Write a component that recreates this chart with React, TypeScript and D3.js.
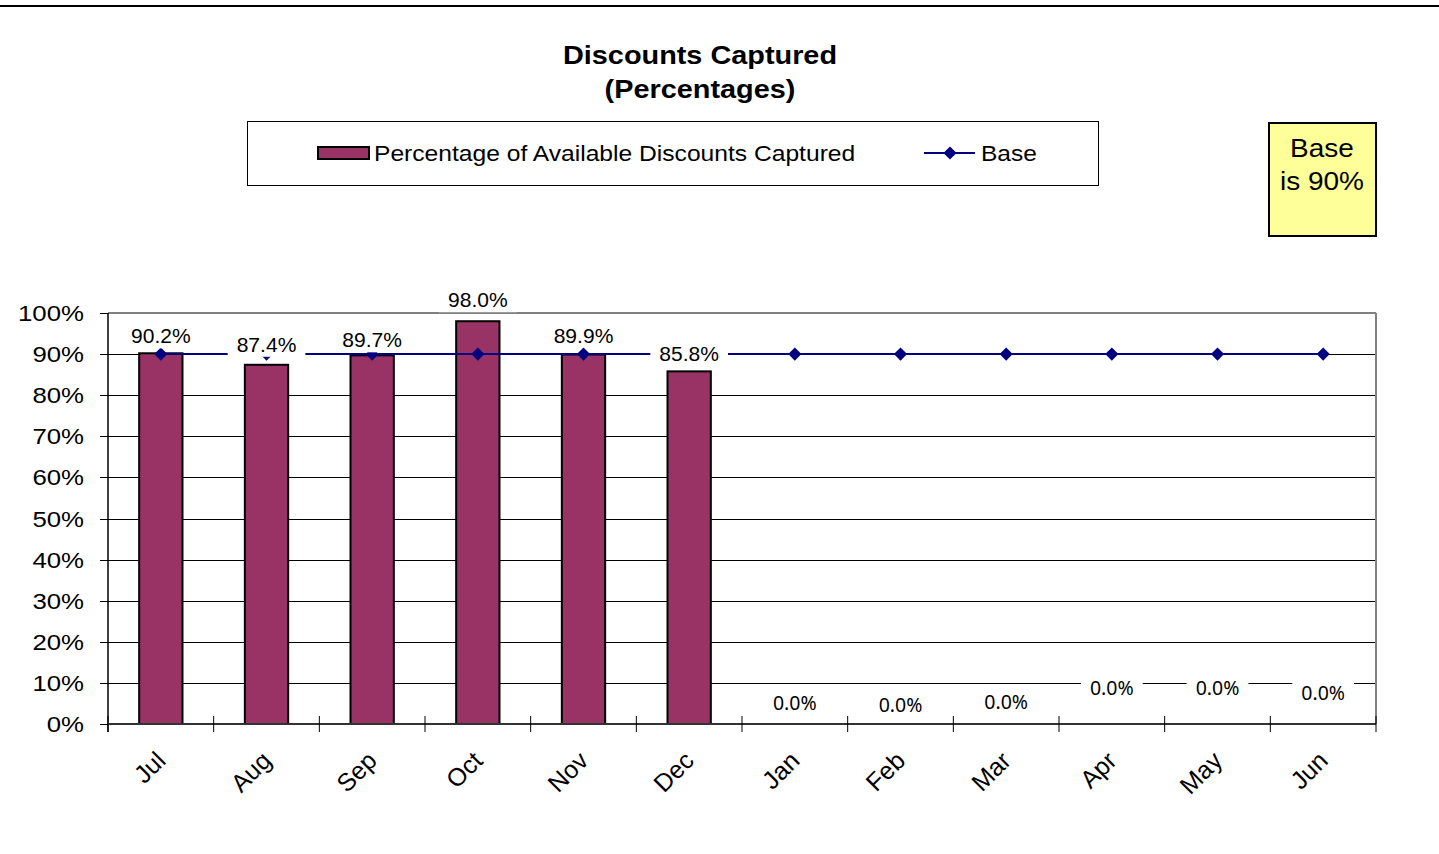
import React, { useEffect, useRef } from "react";
import * as d3 from "d3";

const months = ["Jul", "Aug", "Sep", "Oct", "Nov", "Dec", "Jan", "Feb", "Mar", "Apr", "May", "Jun"];
const captured = [0.902, 0.874, 0.897, 0.98, 0.899, 0.858, null, null, null, null, null, null];
const capturedLabels = ["90.2%", "87.4%", "89.7%", "98.0%", "89.9%", "85.8%", "0.0%", "0.0%", "0.0%", "0.0%", "0.0%", "0.0%"];
const base = [0.9, 0.9, 0.9, 0.9, 0.9, 0.9, 0.9, 0.9, 0.9, 0.9, 0.9, 0.9];
const yTicks = [0, 0.1, 0.2, 0.3, 0.4, 0.5, 0.6, 0.7, 0.8, 0.9, 1.0];
const labelLift = [17, 20, 15, 21, 19, 17, 21, 19, 22, 36, 36, 31];

const W = 1439;
const H = 854;
const BAR = "#993366";
const NAVY = "#000080";
const ARIAL = "'Liberation Sans', Arial, sans-serif";

export default function App() {
  const ref = useRef<SVGSVGElement | null>(null);

  useEffect(() => {
    document.body.style.margin = "0";
    const svg = d3.select(ref.current);
    svg.selectAll("*").remove();

    const left = 108, right = 1376, top = 313, bottom = 724;
    const x = d3.scaleBand<string>().domain(months).range([left, right]).paddingInner(0.59).paddingOuter(0.295);
    const step = x.step();
    const y = d3.scaleLinear().domain([0, 1]).range([bottom, top]);
    const cx = (m: string) => (x(m) as number) + x.bandwidth() / 2;

    // top rule
    svg.append("line").attr("x1", 0).attr("x2", W).attr("y1", 6).attr("y2", 6).attr("stroke", "#000").attr("stroke-width", 2);

    // title
    const title = svg.append("g").attr("font-family", ARIAL).attr("font-weight", "bold").attr("font-size", 26).attr("text-anchor", "middle");
    title.append("text").attr("transform", "translate(700,64) scale(1.11,1)").text("Discounts Captured");
    title.append("text").attr("transform", "translate(700,98) scale(1.11,1)").text("(Percentages)");

    // legend
    svg.append("rect").attr("x", 247.5).attr("y", 121.5).attr("width", 851).attr("height", 64).attr("fill", "#fff").attr("stroke", "#000").attr("stroke-width", 1);
    svg.append("rect").attr("x", 318).attr("y", 147).attr("width", 51).attr("height", 12).attr("fill", BAR).attr("stroke", "#000").attr("stroke-width", 2);
    svg.append("text").attr("transform", "translate(374,161) scale(1.145,1)").attr("font-family", ARIAL).attr("font-size", 21.5).text("Percentage of Available Discounts Captured");
    svg.append("line").attr("x1", 924).attr("x2", 975).attr("y1", 153).attr("y2", 153).attr("stroke", NAVY).attr("stroke-width", 2);
    svg.append("path").attr("d", d3.symbol(d3.symbolDiamond2, 110)()).attr("transform", "translate(950,153)").attr("fill", NAVY);
    svg.append("text").attr("transform", "translate(981,161) scale(1.14,1)").attr("font-family", ARIAL).attr("font-size", 21.5).text("Base");

    // note box
    svg.append("rect").attr("x", 1269).attr("y", 123).attr("width", 107).attr("height", 113).attr("fill", "#FFFF99").attr("stroke", "#000").attr("stroke-width", 2);
    const note = svg.append("g").attr("font-family", ARIAL).attr("font-size", 25).attr("text-anchor", "middle");
    note.append("text").attr("transform", "translate(1322,157) scale(1.12,1)").text("Base");
    note.append("text").attr("transform", "translate(1322,190) scale(1.12,1)").text("is 90%");

    // gridlines
    svg.append("g").selectAll("line").data(yTicks.filter((t) => t > 0 && t < 1)).join("line")
      .attr("x1", left).attr("x2", right).attr("y1", (d) => Math.round(y(d)) + 0.5).attr("y2", (d) => Math.round(y(d)) + 0.5)
      .attr("stroke", "#000").attr("stroke-width", 1);
    // plot border top & right
    svg.append("line").attr("x1", left).attr("x2", right).attr("y1", top).attr("y2", top).attr("stroke", "#808080").attr("stroke-width", 2);
    svg.append("line").attr("x1", right).attr("x2", right).attr("y1", top).attr("y2", bottom).attr("stroke", "#808080").attr("stroke-width", 2);

    // y axis
    svg.append("line").attr("x1", left).attr("x2", left).attr("y1", top).attr("y2", bottom + 8).attr("stroke", "#000").attr("stroke-width", 1.5);
    const yt = svg.append("g");
    yt.selectAll("line").data(yTicks).join("line")
      .attr("x1", left - 8).attr("x2", left).attr("y1", (d) => Math.round(y(d)) + 0.5).attr("y2", (d) => Math.round(y(d)) + 0.5)
      .attr("stroke", "#000").attr("stroke-width", 1);
    yt.selectAll("text").data(yTicks).join("text")
      .attr("transform", (d) => `translate(84,${y(d) + 8}) scale(1.2,1)`)
      .attr("text-anchor", "end").attr("font-family", ARIAL).attr("font-size", 21.5)
      .text((d) => d3.format(".0%")(d));

    // bars
    svg.append("g").selectAll("rect").data(months.map((m, i) => ({ m, v: captured[i] })).filter((d) => d.v != null)).join("rect")
      .attr("x", (d) => x(d.m) as number).attr("y", (d) => y(d.v as number)).attr("width", x.bandwidth())
      .attr("height", (d) => y(0) - y(d.v as number))
      .attr("fill", BAR).attr("stroke", "#000").attr("stroke-width", 2);

    // x axis
    svg.append("line").attr("x1", left).attr("x2", right).attr("y1", bottom).attr("y2", bottom).attr("stroke", "#333").attr("stroke-width", 2);
    svg.append("g").selectAll("line").data(d3.range(months.length + 1)).join("line")
      .attr("x1", (i) => left + i * step).attr("x2", (i) => left + i * step).attr("y1", bottom - 8).attr("y2", bottom + 8)
      .attr("stroke", "#000").attr("stroke-width", 1);
    svg.append("g").selectAll("text").data(months).join("text")
      .attr("transform", (m) => `translate(${cx(m) - 7},${bottom + 25}) rotate(-45)`)
      .attr("text-anchor", "end").attr("dy", "0.75em").attr("font-family", ARIAL).attr("font-size", 25)
      .text((m) => m);

    // base line
    const line = d3.line<number>().x((_, i) => cx(months[i])).y((d) => y(d));
    svg.append("path").attr("d", line(base) as string).attr("fill", "none").attr("stroke", NAVY).attr("stroke-width", 2);
    svg.append("g").selectAll("path").data(base).join("path")
      .attr("d", d3.symbol(d3.symbolDiamond2, 110)() as string)
      .attr("transform", (d, i) => `translate(${cx(months[i])},${y(d)})`).attr("fill", NAVY);

    // data labels
    const lg = svg.append("g");
    capturedLabels.forEach((lab, i) => {
      const v = captured[i] ?? 0;
      const ly = y(v) - labelLift[i];
      const g = lg.append("g").attr("transform", `translate(${cx(months[i])},${ly})`);
      const isZero = captured[i] == null;
      const sx = isZero ? 1 : 1.08;
      const t = g.append("text").attr("text-anchor", "middle").attr("dy", "0.36em")
        .attr("font-family", isZero ? "'Noto Sans', sans-serif" : ARIAL)
        .attr("font-size", 19.5).text(lab)
        .attr("transform", `scale(${sx},1)`);
      const bb = (t.node() as SVGTextElement).getBBox();
      g.insert("rect", "text").attr("x", bb.x * sx - 9).attr("y", -12).attr("width", bb.width * sx + 18).attr("height", 24).attr("fill", "#fff");
    });
  }, []);

  return <svg ref={ref} width={W} height={H} style={{ display: "block", background: "#fff" }} />;
}
